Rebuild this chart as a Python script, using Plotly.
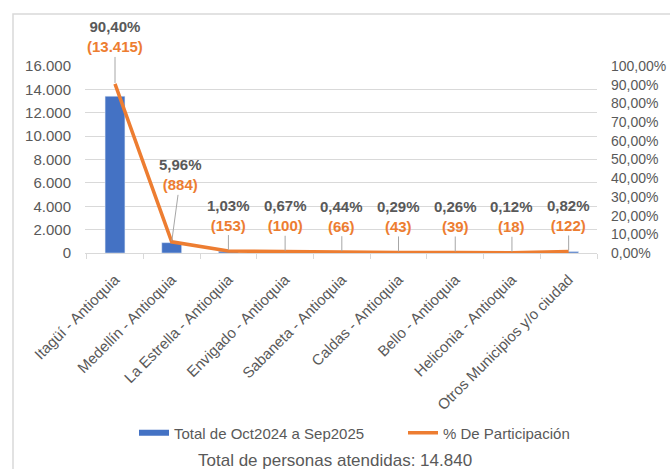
import plotly.graph_objects as go

categories = ["Itagüí - Antioquia", "Medellín - Antioquia", "La Estrella - Antioquia",
              "Envigado - Antioquia", "Sabaneta - Antioquia", "Caldas - Antioquia",
              "Bello - Antioquia", "Heliconia - Antioquia", "Otros Municipios y/o ciudad"]
totals = [13415, 884, 153, 100, 66, 43, 39, 18, 122]
participation = [0.9040, 0.0596, 0.0103, 0.0067, 0.0044, 0.0029, 0.0026, 0.0012, 0.0082]
pct_labels = ["90,40%", "5,96%", "1,03%", "0,67%", "0,44%", "0,29%", "0,26%", "0,12%", "0,82%"]
count_labels = ["(13.415)", "(884)", "(153)", "(100)", "(66)", "(43)", "(39)", "(18)", "(122)"]
bar_name = "Total de Oct2024 a Sep2025"
line_name = "% De Participación"
total_text = "Total de personas atendidas: 14.840"

BLUE = "#4472C4"
ORANGE = "#ED7D31"
GRAY = "#595959"
GRID = "#D9D9D9"
FONT = "Liberation Sans"

fig = go.Figure()
fig.add_trace(go.Bar(x=categories, y=totals, name=bar_name, showlegend=False,
                     marker=dict(color=BLUE), width=0.35, yaxis="y"))
# legend entry drawn as a thick line, like the reference's legend key
fig.add_trace(go.Scatter(x=[None], y=[None], name=bar_name, mode="lines",
                         line=dict(color=BLUE, width=6), yaxis="y", legend="legend"))
fig.add_trace(go.Scatter(x=categories, y=participation, name=line_name,
                         mode="lines", line=dict(color=ORANGE, width=3.5), yaxis="y2",
                         legend="legend2"))

label_ax = [0, 9, 0, 0, 0, 0, 0, 0, 0]
label_ay = [-47, -67, -36, -36, -36, -36, -36, -36, -36]
for i, c in enumerate(categories):
    fig.add_annotation(
        x=c, y=participation[i], xref="x", yref="y2",
        text=f"<b>{pct_labels[i]}</b><br><b><span style='color:{ORANGE}'>{count_labels[i]}</span></b>",
        showarrow=True, arrowhead=0, arrowwidth=1, arrowcolor="#A6A6A6",
        ax=label_ax[i], ay=label_ay[i], standoff=1,
        font=dict(family=FONT, size=15, color=GRAY), align="center",
    )

fig.add_annotation(x=0.488, y=-1.107, xref="paper", yref="paper", text=total_text,
                   showarrow=False, xanchor="center", yanchor="middle",
                   font=dict(family=FONT, size=17, color=GRAY))

fig.add_shape(type="rect", xref="paper", yref="paper",
              x0=(13 - 85) / 512, x1=(700 - 85) / 512, y0=(253 - 600) / 187, y1=(253 - 14) / 187,
              line=dict(color=GRID, width=1.5), fillcolor="rgba(0,0,0,0)", layer="below")

legend_common = dict(orientation="h", y=-0.963, yanchor="middle", xanchor="left",
                     font=dict(family=FONT, size=15, color=GRAY),
                     itemwidth=30, bgcolor="rgba(0,0,0,0)")

fig.update_layout(
    width=670, height=469,
    margin=dict(l=85, r=73, t=66, b=216, autoexpand=False),
    paper_bgcolor="white", plot_bgcolor="white",
    separators=",.",
    font=dict(family=FONT, size=15, color=GRAY),
    showlegend=True,
    legend=dict(x=(134 - 85) / 512, **legend_common),
    legend2=dict(x=(403 - 85) / 512, **legend_common),
    xaxis=dict(showline=True, linecolor=GRID, linewidth=1, ticks="outside", tickcolor=GRID,
               ticklen=5, tickson="boundaries", tickangle=-45, automargin=False,
               ticklabelstandoff=11,
               tickfont=dict(family=FONT, size=15, color=GRAY), showgrid=False),
    yaxis=dict(range=[0, 16000], dtick=2000, tickformat=",.0f", showgrid=True, gridcolor=GRID,
               zeroline=False, tickfont=dict(family=FONT, size=15, color=GRAY), ticks="",
               ticklabelstandoff=13, automargin=False),
    yaxis2=dict(range=[0, 1], dtick=0.1, tickformat=".2%", overlaying="y", side="right",
                showgrid=False, zeroline=False, tickfont=dict(family=FONT, size=14, color=GRAY),
                ticklabelstandoff=13, automargin=False),
    bargap=0.65,
)

fig.write_html("out.html", config={"displayModeBar": False},
               post_script="document.body.style.margin='0';")
